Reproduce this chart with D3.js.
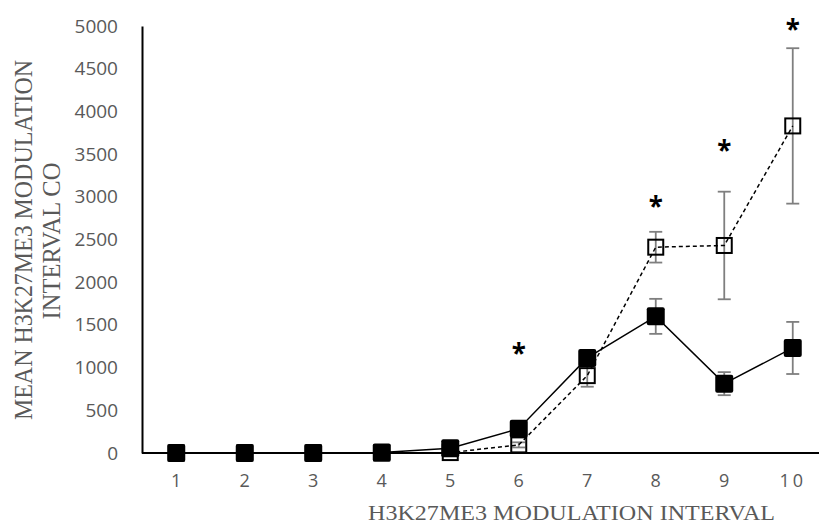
<!DOCTYPE html>
<html>
<head>
<meta charset="utf-8">
<script src="https://cdn.jsdelivr.net/npm/d3@7"></script>
<style>
    body { margin: 0; background: #fff; }
    svg { display: block; }
</style>
</head>
<body>
<div id="chart"></div>
<script>
// intervals on the x axis
var intervals = [1, 2, 3, 4, 5, 6, 7, 8, 9, 10];
// filled squares, solid line
var filledMean = [0, 0, 0, 5, 55, 285, 1113, 1600, 812, 1230];
var filledErr = [0, 0, 0, 0, 0, 0, 40, 205, 135, 305];
// open squares, dashed line
var openMean = [0, 0, 0, 0, 5, 95, 906, 2410, 2430, 3830];
var openErr = [0, 0, 0, 0, 0, 30, 130, 180, 630, 910];
// significance marks
var starIntervals = [6, 8, 9, 10];
var starLevels = [1216, 2946, 3603, 5018];
var yTicks = [0, 500, 1000, 1500, 2000, 2500, 3000, 3500, 4000, 4500, 5000];

var W = 819, H = 525;
var margin = { top: 26, left: 142 };
var innerW = 685, innerH = 453 - margin.top;

var svg = d3.select("#chart").append("svg")
    .attr("width", W)
    .attr("height", H);

var g = svg.append("g")
    .attr("transform", "translate(" + margin.left + "," + margin.top + ")");

var x = d3.scaleBand()
    .domain(intervals)
    .range([0, innerW])
    .padding(0);
var y = d3.scaleLinear()
    .domain([0, 5000])
    .range([innerH, 0]);

function cx(d) { return x(d) + x.bandwidth() / 2; }

// axes
var yAxis = g.append("g")
    .call(d3.axisLeft(y).tickValues(yTicks).tickFormat(d3.format("d")).tickSize(0).tickPadding(24));
yAxis.select(".domain").attr("stroke", "#000").attr("stroke-width", 2);
yAxis.selectAll("text")
    .attr("fill", "#595959")
    .style("font-family", "'Open Sans', sans-serif")
    .style("font-size", "19px");

var xAxis = g.append("g")
    .attr("transform", "translate(0," + innerH + ")")
    .call(d3.axisBottom(x).tickSize(0).tickPadding(21));
xAxis.select(".domain").remove();
xAxis.append("line")
    .attr("x1", 0).attr("x2", W - margin.left)
    .attr("stroke", "#000").attr("stroke-width", 2);
xAxis.selectAll("text")
    .attr("fill", "#595959")
    .style("font-family", "'Open Sans', sans-serif")
    .style("font-size", "18px")
    .style("letter-spacing", function (d) { return d === 10 ? "3px" : "0px"; });

// axis titles
svg.append("text")
    .attr("x", 571.5).attr("y", 520)
    .attr("text-anchor", "middle")
    .attr("textLength", 407).attr("lengthAdjust", "spacingAndGlyphs")
    .attr("fill", "#595959")
    .style("font-family", "'Liberation Serif', 'Times New Roman', serif")
    .style("font-size", "21px")
    .text("H3K27ME3 MODULATION INTERVAL");

svg.append("text")
    .attr("transform", "translate(31.5,240) rotate(-90)")
    .attr("text-anchor", "middle")
    .attr("textLength", 360).attr("lengthAdjust", "spacingAndGlyphs")
    .attr("fill", "#595959")
    .style("font-family", "'Liberation Serif', 'Times New Roman', serif")
    .style("font-size", "25px")
    .text("MEAN H3K27ME3 MODULATION");

svg.append("text")
    .attr("transform", "translate(60,241) rotate(-90)")
    .attr("text-anchor", "middle")
    .attr("textLength", 157).attr("lengthAdjust", "spacingAndGlyphs")
    .attr("fill", "#595959")
    .style("font-family", "'Liberation Serif', 'Times New Roman', serif")
    .style("font-size", "25px")
    .text("INTERVAL CO");

// draws one series: error bars, line, markers
function drawSeries(mean, err, opts) {
    var data = intervals.map(function (k, i) {
        return { k: k, v: mean[i], e: err[i] };
    });
    var s = g.append("g");

    var eb = s.selectAll(".eb")
        .data(data.filter(function (d) { return d.e > 0; }))
        .enter().append("g")
        .attr("stroke", "#7f7f7f")
        .attr("stroke-width", 1.8);
    eb.append("line")
        .attr("x1", function (d) { return cx(d.k); })
        .attr("x2", function (d) { return cx(d.k); })
        .attr("y1", function (d) { return y(d.v - d.e); })
        .attr("y2", function (d) { return y(d.v + d.e); });
    eb.append("line")
        .attr("x1", function (d) { return cx(d.k) - 6.5; })
        .attr("x2", function (d) { return cx(d.k) + 6.5; })
        .attr("y1", function (d) { return y(d.v + d.e); })
        .attr("y2", function (d) { return y(d.v + d.e); });
    eb.append("line")
        .attr("x1", function (d) { return cx(d.k) - 6.5; })
        .attr("x2", function (d) { return cx(d.k) + 6.5; })
        .attr("y1", function (d) { return y(d.v - d.e); })
        .attr("y2", function (d) { return y(d.v - d.e); });

    var line = d3.line()
        .x(function (d) { return cx(d.k); })
        .y(function (d) { return y(d.v); });
    s.append("path")
        .datum(data)
        .attr("d", line)
        .attr("fill", "none")
        .attr("stroke", "#000")
        .attr("stroke-width", 1.5)
        .attr("stroke-dasharray", opts.dash);

    s.selectAll(".mk")
        .data(data)
        .enter().append("rect")
        .attr("x", function (d) { return cx(d.k) - opts.size / 2; })
        .attr("y", function (d) { return y(d.v) - opts.size / 2; })
        .attr("width", opts.size)
        .attr("height", opts.size)
        .attr("rx", opts.filled ? 2 : 0)
        .attr("fill", opts.filled ? "#000" : "none")
        .attr("stroke", opts.filled ? "none" : "#000")
        .attr("stroke-width", 2);
}

drawSeries(openMean, openErr, { filled: false, size: 15, dash: "4,3" });
drawSeries(filledMean, filledErr, { filled: true, size: 18, dash: null });

// asterisks
g.selectAll(".star")
    .data(starIntervals)
    .enter().append("text")
    .attr("x", function (d) { return cx(d); })
    .attr("y", function (d, i) { return y(starLevels[i]); })
    .attr("dy", "0.55em")
    .attr("text-anchor", "middle")
    .style("font-family", "'Noto Sans', sans-serif")
    .style("font-weight", "bold")
    .style("font-size", "26px")
    .attr("fill", "#000")
    .text("*");
</script>
</body>
</html>
